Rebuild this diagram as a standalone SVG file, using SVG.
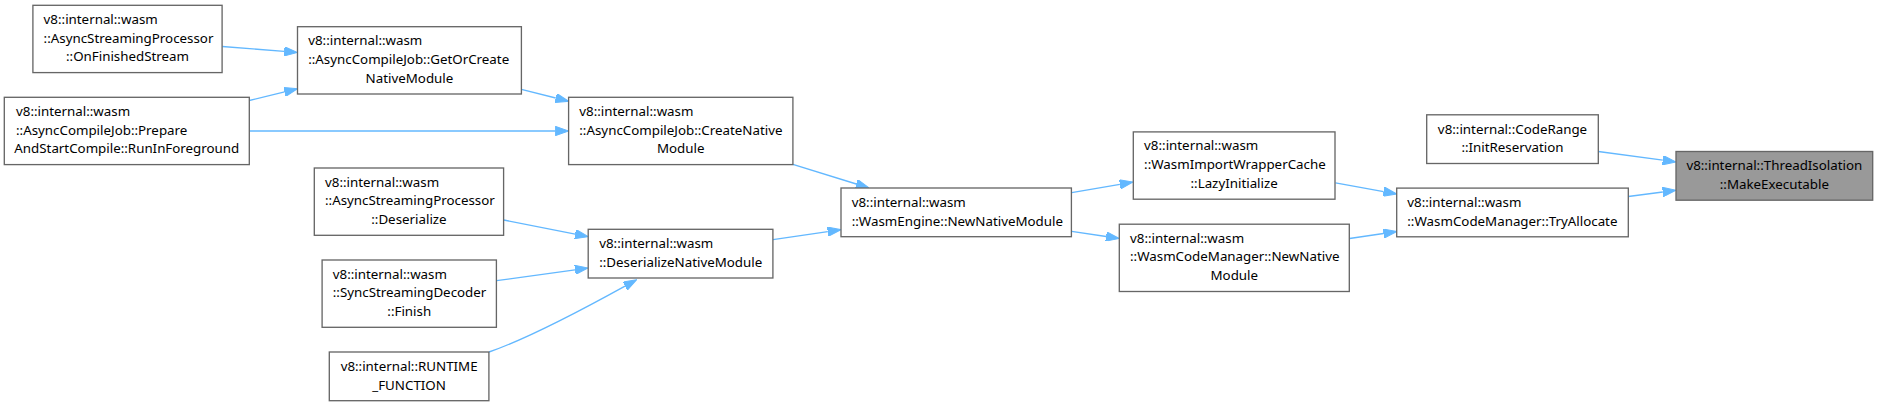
<svg xmlns="http://www.w3.org/2000/svg" width="1878" height="406" viewBox="0 0 1878 406">
<style>
  .box { fill: #ffffff; stroke: #666666; stroke-width: 1.33; }
  .target { fill: #999999; stroke: #666666; stroke-width: 1.33; }
  text { font-family: "Noto Sans", "Open Sans", "DejaVu Sans", sans-serif; font-size: 13.33px; fill: #000000; }
  .c { text-anchor: middle; }
  .l { text-anchor: start; }
  .edge { fill: none; stroke: #63b8ff; stroke-width: 1.33; marker-end: url(#arrow); }
</style>
<defs>
  <marker id="arrow" viewBox="0 0 13.3 9.4" refX="0" refY="4.7" markerWidth="13.3" markerHeight="9.4" markerUnits="userSpaceOnUse" orient="auto">
    <path d="M0,0 L13.3,4.7 L0,9.4 z" fill="#63b8ff" stroke="#63b8ff" stroke-width="1"/>
  </marker>
</defs>
<rect width="1878" height="406" fill="#ffffff"/>

<g id="connectors">
  <path class="edge" d="M222.3,46.5 L284.2,51.4"/>
  <path class="edge" d="M249.3,100.5 L284.6,91.9"/>
  <path class="edge" d="M249.3,131 L555.3,131"/>
  <path class="edge" d="M521.4,89.3 L555.7,98.0"/>
  <path class="edge" d="M792.9,164.3 L856.3,184.0"/>
  <path class="edge" d="M773,239.7 L827.8,231.6"/>
  <path class="edge" d="M503.8,220 L575.2,234.1"/>
  <path class="edge" d="M496.6,280.7 L575.0,269.8"/>
  <path class="edge" d="M489,352 C515,343 560,322 625,286.1"/>
  <path class="edge" d="M1071.7,192.7 L1119.9,184.3"/>
  <path class="edge" d="M1071.7,231.3 L1106.1,236.5"/>
  <path class="edge" d="M1335.5,182.8 L1383.6,191.6"/>
  <path class="edge" d="M1349.5,238.5 L1383.5,233.5"/>
  <path class="edge" d="M1598.3,151.5 L1662.8,160.2"/>
  <path class="edge" d="M1628.3,196.5 L1662.8,192.0"/>
</g>

<g id="node_OnFinishedStream">
  <rect class="box" x="32.9" y="5.3" width="189.2" height="67.3"/>
  <text class="l" x="43.6" y="23.8">v8::internal::wasm</text>
  <text class="l" x="43.6" y="42.5">::AsyncStreamingProcessor</text>
  <text class="c" x="127.5" y="61.2">::OnFinishedStream</text>
</g>

<g id="node_GetOrCreateNativeModule">
  <rect class="box" x="297.5" y="26.7" width="223.9" height="67.3"/>
  <text class="l" x="308.2" y="45.2">v8::internal::wasm</text>
  <text class="l" x="308.2" y="63.9">::AsyncCompileJob::GetOrCreate</text>
  <text class="c" x="409.45" y="82.6">NativeModule</text>
</g>

<g id="node_RunInForeground">
  <rect class="box" x="4.3" y="97.3" width="245" height="67.3"/>
  <text class="l" x="16" y="115.8">v8::internal::wasm</text>
  <text class="l" x="16" y="134.5">::AsyncCompileJob::Prepare</text>
  <text class="c" x="126.8" y="153.2">AndStartCompile::RunInForeground</text>
</g>

<g id="node_CreateNativeModule">
  <rect class="box" x="568.6" y="97.3" width="224.3" height="67.3"/>
  <text class="l" x="579.3" y="115.8">v8::internal::wasm</text>
  <text class="l" x="579.3" y="134.5">::AsyncCompileJob::CreateNative</text>
  <text class="c" x="680.75" y="153.2">Module</text>
</g>

<g id="node_ASPDeserialize">
  <rect class="box" x="314.3" y="168" width="189.3" height="67.3"/>
  <text class="l" x="325" y="186.5">v8::internal::wasm</text>
  <text class="l" x="325" y="205.2">::AsyncStreamingProcessor</text>
  <text class="c" x="408.95" y="223.9">::Deserialize</text>
</g>

<g id="node_SyncStreamingDecoderFinish">
  <rect class="box" x="322.1" y="260" width="174.3" height="67.3"/>
  <text class="l" x="332.8" y="278.5">v8::internal::wasm</text>
  <text class="l" x="332.8" y="297.2">::SyncStreamingDecoder</text>
  <text class="c" x="409.25" y="315.9">::Finish</text>
</g>

<g id="node_RUNTIME_FUNCTION">
  <rect class="box" x="329.3" y="352" width="159.6" height="48.7"/>
  <text class="c" x="409.1" y="370.9">v8::internal::RUNTIME</text>
  <text class="c" x="409.1" y="389.6">_FUNCTION</text>
</g>

<g id="node_DeserializeNativeModule">
  <rect class="box" x="588.2" y="229.3" width="184.7" height="48.7"/>
  <text class="l" x="599.2" y="248.2">v8::internal::wasm</text>
  <text class="l" x="599.2" y="266.9">::DeserializeNativeModule</text>
</g>

<g id="node_WasmEngineNewNativeModule">
  <rect class="box" x="841" y="188" width="230.4" height="48.7"/>
  <text class="l" x="851.7" y="206.9">v8::internal::wasm</text>
  <text class="l" x="851.7" y="225.6">::WasmEngine::NewNativeModule</text>
</g>

<g id="node_LazyInitialize">
  <rect class="box" x="1133.3" y="131.9" width="201.7" height="67.3"/>
  <text class="l" x="1144.1" y="150.4">v8::internal::wasm</text>
  <text class="l" x="1144.1" y="169.1">::WasmImportWrapperCache</text>
  <text class="c" x="1234.15" y="187.8">::LazyInitialize</text>
</g>

<g id="node_WasmCodeManagerNewNativeModule">
  <rect class="box" x="1119.3" y="224.2" width="230" height="67.3"/>
  <text class="l" x="1130" y="242.7">v8::internal::wasm</text>
  <text class="l" x="1130" y="261.4">::WasmCodeManager::NewNative</text>
  <text class="c" x="1234.3" y="280.1">Module</text>
</g>

<g id="node_TryAllocate">
  <rect class="box" x="1396.7" y="188.1" width="231.6" height="48.7"/>
  <text class="l" x="1407.3" y="207">v8::internal::wasm</text>
  <text class="l" x="1407.3" y="225.7">::WasmCodeManager::TryAllocate</text>
</g>

<g id="node_InitReservation">
  <rect class="box" x="1426.7" y="114.8" width="171.6" height="48.7"/>
  <text class="c" x="1512.5" y="133.7">v8::internal::CodeRange</text>
  <text class="c" x="1512.5" y="152.4">::InitReservation</text>
</g>

<g id="node_MakeExecutable">
  <rect class="target" x="1676" y="151.5" width="196.7" height="48.7"/>
  <text class="c" x="1774.35" y="170.4">v8::internal::ThreadIsolation</text>
  <text class="c" x="1774.35" y="189.1">::MakeExecutable</text>
</g>
</svg>
